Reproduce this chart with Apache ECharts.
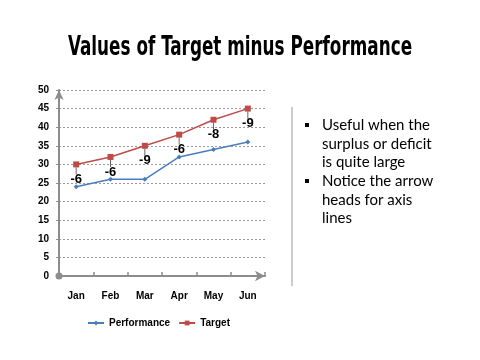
<!DOCTYPE html>
<html><head><meta charset="utf-8">
<script src="https://cdn.jsdelivr.net/npm/echarts@6/dist/echarts.min.js"></script>
<style>html,body{margin:0;padding:0;background:#fff}#c{width:480px;height:360px}</style>
</head><body><div id="c"></div>
<script>
var categories = ['Jan','Feb','Mar','Apr','May','Jun'];
var performance = [24, 26, 26, 32, 34, 36];
var target = [30, 32, 35, 38, 42, 45];
var yTicks = [0,5,10,15,20,25,30,35,40,45,50];
var titleText = 'Values of Target minus Performance';
var bullets = ['Useful when the\nsurplus or deficit\nis quite large', 'Notice the arrow\nheads for axis\nlines'];

var diffData = categories.map(function(c, i){ return [i, target[i], performance[i] - target[i]]; });

var chart = echarts.init(document.getElementById('c'), null, {renderer:'canvas'});
chart.setOption({
  animation: false,
  backgroundColor: '#fff',
  grid: {left: 59, right: 215, top: 90, bottom: 84},
  legend: {
    left: 82, top: 313, itemGap: 8, itemWidth: 16, itemHeight: 6,
    textStyle: {fontFamily: 'Liberation Sans', fontWeight: 'bold', fontSize: 10, color: '#000'},
    data: ['Performance', 'Target']
  },
  xAxis: {
    type: 'category', data: categories, boundaryGap: true,
    axisLine: {lineStyle: {color: '#8c8c8c', width: 2}, symbol: ['none', 'arrow'], symbolSize: [8, 10]},
    axisTick: {show: true, inside: true, length: 4, lineStyle: {color: '#8c8c8c', width: 1.5}},
    axisLabel: {margin: 15, fontFamily: 'Liberation Sans', fontWeight: 'bold', fontSize: 10, color: '#000'}
  },
  yAxis: {
    type: 'value', min: 0, max: 50, interval: 5,
    axisLine: {show: true, lineStyle: {color: '#8c8c8c', width: 2}, symbol: ['circle', 'arrow'], symbolSize: [7, 10]},
    axisTick: {show: true, length: 3, lineStyle: {color: '#8c8c8c'}},
    axisLabel: {margin: 10, fontFamily: 'Liberation Sans', fontWeight: 'bold', fontSize: 10, color: '#000'},
    splitLine: {lineStyle: {color: '#9a9a9a', type: [2, 2], width: 1}}
  },
  series: [
    {name: 'Performance', type: 'line', data: performance, color: '#4a7ebb',
     symbol: 'diamond', symbolSize: 5, lineStyle: {width: 1.5}, itemStyle: {color: '#4a7ebb'}},
    {name: 'Target', type: 'line', data: target, color: '#be4b48',
     symbol: 'rect', symbolSize: 6, lineStyle: {width: 1.5}, itemStyle: {color: '#be4b48'}},
    {name: 'diff', type: 'custom', data: diffData, z: 5,
     renderItem: function(params, api){
       var p = api.coord([api.value(0), api.value(1)]);
       var d = api.value(2);
       return {type: 'group', children: [
         {type: 'line', shape: {x1: p[0], y1: p[1] + 3, x2: p[0], y2: p[1] + 10}, style: {stroke: '#666', lineWidth: 1}},
         {type: 'text', style: {text: String(d), x: p[0], y: p[1] + 15, align: 'center', verticalAlign: 'middle',
           font: 'bold 13px "Liberation Sans"', fill: '#000'}}
       ]};
     }}
  ],
  graphic: [
    {type: 'text', x: 240, y: 48, scaleX: 0.72, style: {text: titleText, align: 'center', verticalAlign: 'middle',
      font: 'bold 26px "DejaVu Sans Condensed"', fill: '#000'}},
    {type: 'line', shape: {x1: 292, y1: 107, x2: 292, y2: 286}, style: {stroke: '#9a9a9a', lineWidth: 1}},
    {type: 'rect', shape: {x: 305, y: 123, width: 4, height: 4}, style: {fill: '#000'}},
    {type: 'text', left: 322, top: 116, style: {text: bullets[0], font: '15px Lato', lineHeight: 18.6, fill: '#000'}},
    {type: 'rect', shape: {x: 305, y: 179, width: 4, height: 4}, style: {fill: '#000'}},
    {type: 'text', left: 322, top: 172, style: {text: bullets[1], font: '15px Lato', lineHeight: 18.6, fill: '#000'}}
  ]
});
</script></body></html>
